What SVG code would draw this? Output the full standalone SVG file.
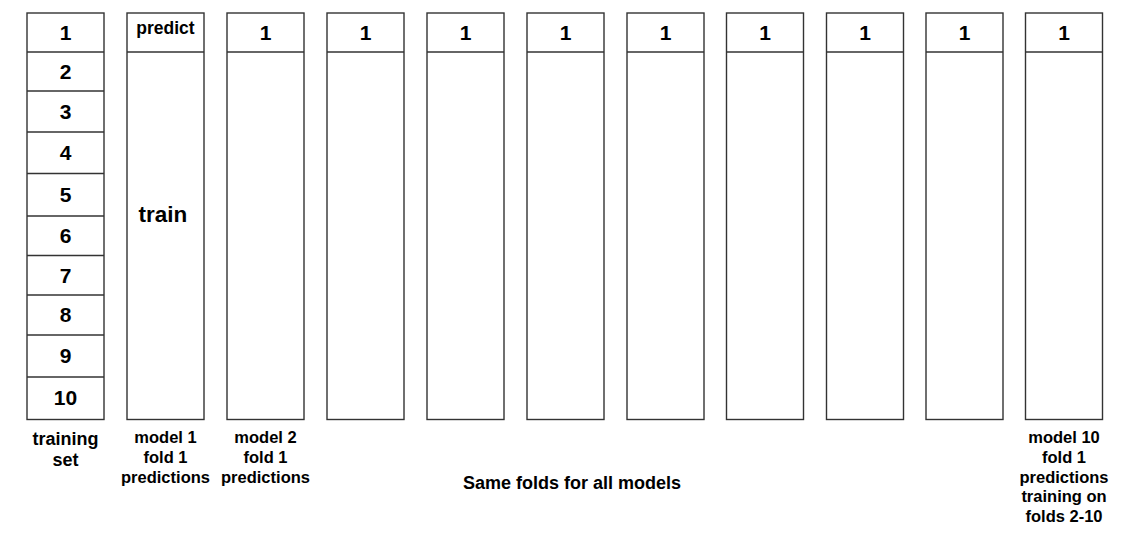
<svg xmlns="http://www.w3.org/2000/svg" width="1124" height="548" viewBox="0 0 1124 548">
<style>
.box{fill:#fff;stroke:#333;stroke-width:1.4}
.div{stroke:#333;stroke-width:1.4}
.n{font-family:"Liberation Sans",Arial,sans-serif;font-weight:bold;font-size:21px;text-anchor:middle;fill:#000}
.p{font-family:"Liberation Sans",Arial,sans-serif;font-weight:bold;font-size:17.5px;text-anchor:middle;fill:#000}
.t{font-family:"Liberation Sans",Arial,sans-serif;font-weight:bold;font-size:22.5px;text-anchor:middle;fill:#000}
.l{font-family:"Liberation Sans",Arial,sans-serif;font-weight:bold;font-size:16.5px;text-anchor:middle;fill:#000}
.b{font-family:"Liberation Sans",Arial,sans-serif;font-weight:bold;font-size:18px;text-anchor:middle;fill:#000}
</style>
<rect width="1124" height="548" fill="#fff"/>
<g id="training-set">
<rect class="box" x="27" y="13" width="77" height="406.5"/>
<line class="div" x1="27" y1="52" x2="104" y2="52"/>
<line class="div" x1="27" y1="91" x2="104" y2="91"/>
<line class="div" x1="27" y1="132" x2="104" y2="132"/>
<line class="div" x1="27" y1="173.5" x2="104" y2="173.5"/>
<line class="div" x1="27" y1="216" x2="104" y2="216"/>
<line class="div" x1="27" y1="255.5" x2="104" y2="255.5"/>
<line class="div" x1="27" y1="295" x2="104" y2="295"/>
<line class="div" x1="27" y1="335" x2="104" y2="335"/>
<line class="div" x1="27" y1="377" x2="104" y2="377"/>
<text class="n" x="65.5" y="40">1</text>
<text class="n" x="65.5" y="79">2</text>
<text class="n" x="65.5" y="119">3</text>
<text class="n" x="65.5" y="160">4</text>
<text class="n" x="65.5" y="202">5</text>
<text class="n" x="65.5" y="243">6</text>
<text class="n" x="65.5" y="283">7</text>
<text class="n" x="65.5" y="322">8</text>
<text class="n" x="65.5" y="363">9</text>
<text class="n" x="65.5" y="405">10</text>
<text class="b" x="65.5" y="445">training</text>
<text class="b" x="65.5" y="466">set</text>
</g>
<g id="model1">
<rect class="box" x="127" y="13" width="77" height="406.5"/>
<line class="div" x1="127" y1="52" x2="204" y2="52"/>
<text class="p" x="165.5" y="34">predict</text>
<text class="t" x="163" y="222">train</text>
<text class="l" x="165.5" y="443">model 1</text>
<text class="l" x="165.5" y="463">fold 1</text>
<text class="l" x="165.5" y="482.5">predictions</text>
</g>
<g id="model2">
<rect class="box" x="227" y="13" width="77" height="406.5"/>
<line class="div" x1="227" y1="52" x2="304" y2="52"/>
<text class="n" x="265.5" y="40">1</text>
<text class="l" x="265.5" y="443">model 2</text>
<text class="l" x="265.5" y="463">fold 1</text>
<text class="l" x="265.5" y="482.5">predictions</text>
</g>
<g id="model3">
<rect class="box" x="327" y="13" width="77" height="406.5"/>
<line class="div" x1="327" y1="52" x2="404" y2="52"/>
<text class="n" x="365.5" y="40">1</text>
</g>
<g id="model4">
<rect class="box" x="427" y="13" width="77" height="406.5"/>
<line class="div" x1="427" y1="52" x2="504" y2="52"/>
<text class="n" x="465.5" y="40">1</text>
</g>
<g id="model5">
<rect class="box" x="527" y="13" width="77" height="406.5"/>
<line class="div" x1="527" y1="52" x2="604" y2="52"/>
<text class="n" x="565.5" y="40">1</text>
</g>
<g id="model6">
<rect class="box" x="627" y="13" width="77" height="406.5"/>
<line class="div" x1="627" y1="52" x2="704" y2="52"/>
<text class="n" x="665.5" y="40">1</text>
</g>
<g id="model7">
<rect class="box" x="726.5" y="13" width="77" height="406.5"/>
<line class="div" x1="726.5" y1="52" x2="803.5" y2="52"/>
<text class="n" x="765" y="40">1</text>
</g>
<g id="model8">
<rect class="box" x="826.5" y="13" width="77" height="406.5"/>
<line class="div" x1="826.5" y1="52" x2="903.5" y2="52"/>
<text class="n" x="865" y="40">1</text>
</g>
<g id="model9">
<rect class="box" x="926" y="13" width="77" height="406.5"/>
<line class="div" x1="926" y1="52" x2="1003" y2="52"/>
<text class="n" x="964.5" y="40">1</text>
</g>
<g id="model10">
<rect class="box" x="1025.5" y="13" width="77" height="406.5"/>
<line class="div" x1="1025.5" y1="52" x2="1102.5" y2="52"/>
<text class="n" x="1064" y="40">1</text>
<text class="l" x="1064" y="443">model 10</text>
<text class="l" x="1064" y="463">fold 1</text>
<text class="l" x="1064" y="482.5">predictions</text>
<text class="l" x="1064" y="502">training on</text>
<text class="l" x="1064" y="521.5">folds 2-10</text>
</g>
<g id="caption">
<text class="b" x="572" y="489">Same folds for all models</text>
</g>
<g id="connectors"></g>
</svg>
